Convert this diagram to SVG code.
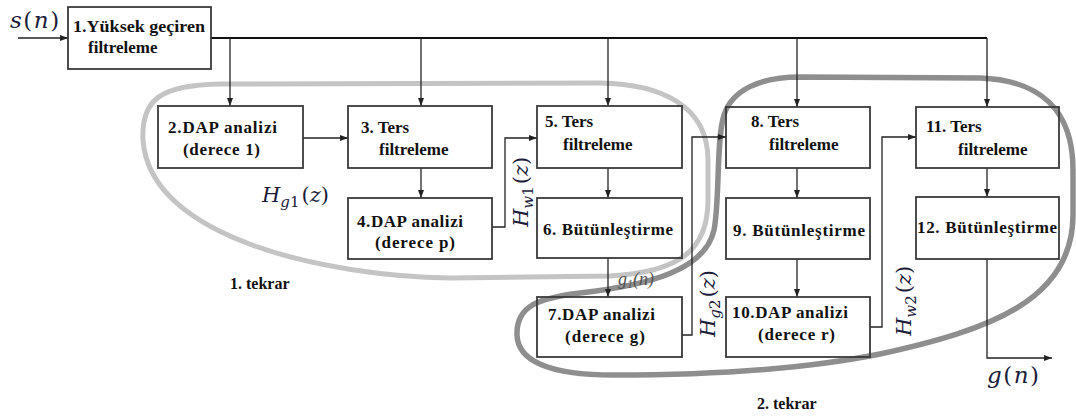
<svg xmlns="http://www.w3.org/2000/svg" width="1076" height="417" viewBox="0 0 1076 417">
<style>
.box{fill:none;stroke:#3a3a3a;stroke-width:1.8}
.lbl{font-family:"Liberation Serif","Times New Roman",serif;font-weight:bold;font-size:17px;fill:#111}
.math{font-family:"DejaVu Serif","Liberation Serif",serif;font-style:italic;fill:#1b1b3a}
.up{font-style:normal}
.con{fill:none;stroke:#222;stroke-width:1.3}
.bus{fill:none;stroke:#111;stroke-width:2}
.loop1{fill:none;stroke:#c4c4c4;stroke-width:5}
.loop2{fill:none;stroke:#8e8e8e;stroke-width:5.5}
</style>
<defs>
<marker id="arr" markerUnits="userSpaceOnUse" markerWidth="8" markerHeight="6" refX="8" refY="3" orient="auto">
<path d="M0,0 L8,3 L0,6 Z" fill="#222"/>
</marker>
</defs>

<g id="loops">
<path class="loop1" d="M220 84 L600 83 C660 84 708 105 708 160 L708 200 C708 250 680 272 610 276 L450 278 C330 276 150 240 143 140 C141 100 160 85 220 84 Z"/>
<path class="loop2" d="M800 77 L980 78 C1040 80 1073 110 1073 170 L1073 215 C1073 300 990 330 880 354 C810 368 720 375 613 375 C560 375 518 365 517 335 C516 305 540 298 580 293 C650 285 705 270 714 230 C720 200 716 140 724 115 C732 90 760 77 800 77 Z"/>
</g>

<g id="connectors">
<path class="con" d="M18,38 H68" marker-end="url(#arr)"/>
<path class="bus" d="M211,38 H987"/>
<path class="con" d="M230,38 V106" marker-end="url(#arr)"/>
<path class="con" d="M421,38 V106" marker-end="url(#arr)"/>
<path class="con" d="M608,38 V106" marker-end="url(#arr)"/>
<path class="con" d="M797,38 V107" marker-end="url(#arr)"/>
<path class="con" d="M987,38 V107" marker-end="url(#arr)"/>
<path class="con" d="M303,138 H348" marker-end="url(#arr)"/>
<path class="con" d="M421,168 V198" marker-end="url(#arr)"/>
<path class="con" d="M492,227 H505 V138 H537" marker-end="url(#arr)"/>
<path class="con" d="M608,168 V198" marker-end="url(#arr)"/>
<path class="con" d="M608,258 V297" marker-end="url(#arr)"/>
<path class="con" d="M682,335 H692 V137 H726" marker-end="url(#arr)"/>
<path class="con" d="M797,168 V198" marker-end="url(#arr)"/>
<path class="con" d="M797,259 V297" marker-end="url(#arr)"/>
<path class="con" d="M870,327 H882 V137 H916" marker-end="url(#arr)"/>
<path class="con" d="M987,168 V197" marker-end="url(#arr)"/>
<path class="con" d="M987,259 V358 H1052" marker-end="url(#arr)"/>
</g>

<g id="n1"><rect class="box" x="68" y="7" width="143" height="62"/>
<text class="lbl" x="73" y="32" textLength="132" lengthAdjust="spacingAndGlyphs">1.Yüksek geçiren</text>
<text class="lbl" x="88" y="53">filtreleme</text></g>

<g id="n2"><rect class="box" x="158" y="106" width="145" height="62"/>
<text class="lbl" x="168" y="133" textLength="109" lengthAdjust="spacing">2.DAP analizi</text>
<text class="lbl" x="183" y="155" textLength="77" lengthAdjust="spacing">(derece 1)</text></g>

<g id="n3"><rect class="box" x="348" y="106" width="144" height="62"/>
<text class="lbl" x="361" y="133">3. Ters</text>
<text class="lbl" x="379" y="155">filtreleme</text></g>

<g id="n4"><rect class="box" x="348" y="198" width="144" height="61"/>
<text class="lbl" x="357" y="227" textLength="106" lengthAdjust="spacing">4.DAP analizi</text>
<text class="lbl" x="375" y="248" textLength="80" lengthAdjust="spacing">(derece p)</text></g>

<g id="n5"><rect class="box" x="537" y="106" width="145" height="62"/>
<text class="lbl" x="545" y="127">5. Ters</text>
<text class="lbl" x="563" y="150">filtreleme</text></g>

<g id="n6"><rect class="box" x="537" y="198" width="145" height="60"/>
<text class="lbl" x="543" y="235" textLength="130" lengthAdjust="spacing">6. Bütünleştirme</text></g>

<g id="n7"><rect class="box" x="537" y="297" width="145" height="60"/>
<text class="lbl" x="548" y="320" textLength="107" lengthAdjust="spacing">7.DAP analizi</text>
<text class="lbl" x="565" y="342" textLength="80" lengthAdjust="spacing">(derece g)</text></g>

<g id="n8"><rect class="box" x="726" y="107" width="144" height="61"/>
<text class="lbl" x="751" y="127">8. Ters</text>
<text class="lbl" x="769" y="150">filtreleme</text></g>

<g id="n9"><rect class="box" x="726" y="198" width="144" height="61"/>
<text class="lbl" x="733" y="236" textLength="132" lengthAdjust="spacing">9. Bütünleştirme</text></g>

<g id="n10"><rect class="box" x="726" y="297" width="144" height="60"/>
<text class="lbl" x="732" y="318" textLength="116" lengthAdjust="spacing">10.DAP analizi</text>
<text class="lbl" x="758" y="340" textLength="77" lengthAdjust="spacing">(derece r)</text></g>

<g id="n11"><rect class="box" x="916" y="107" width="143" height="61"/>
<text class="lbl" x="926" y="132">11. Ters</text>
<text class="lbl" x="958" y="155">filtreleme</text></g>

<g id="n12"><rect class="box" x="916" y="197" width="143" height="62"/>
<text class="lbl" x="917" y="233" textLength="140" lengthAdjust="spacing">12. Bütünleştirme</text></g>

<g id="labels">
<text class="math" x="10" y="28" font-size="23" letter-spacing="1.5">s<tspan class="up">(</tspan>n<tspan class="up">)</tspan></text>
<text class="math" x="987" y="383" font-size="23" letter-spacing="1.5">g<tspan class="up">(</tspan>n<tspan class="up">)</tspan></text>
<text class="math" x="262" y="202" font-size="21">H<tspan font-size="15" dy="5">g</tspan><tspan class="up" font-size="15">1</tspan><tspan class="up" dy="-5" dx="2">(</tspan>z<tspan class="up">)</tspan></text>
<text class="math" transform="translate(528,227) rotate(-90)" font-size="21">H<tspan font-size="15" dy="5">w</tspan><tspan class="up" font-size="15">1</tspan><tspan class="up" dy="-5" dx="2">(</tspan>z<tspan class="up">)</tspan></text>
<text class="math" transform="translate(715,337) rotate(-90)" font-size="21">H<tspan font-size="15" dy="5">g</tspan><tspan class="up" font-size="15">2</tspan><tspan class="up" dy="-5" dx="2">(</tspan>z<tspan class="up">)</tspan></text>
<text class="math" transform="translate(911,336) rotate(-90)" font-size="21">H<tspan font-size="15" dy="5">w</tspan><tspan class="up" font-size="15">2</tspan><tspan class="up" dy="-5" dx="2">(</tspan>z<tspan class="up">)</tspan></text>
<text x="618" y="285" font-family="Liberation Serif, serif" font-style="italic" font-size="18" fill="#555">g<tspan font-size="12" dy="3">1</tspan><tspan dy="-3">(n)</tspan></text>
<text class="lbl" x="230" y="289" style="font-size:16px">1. tekrar</text>
<text class="lbl" x="757" y="409" style="font-size:16px">2. tekrar</text>
</g>
</svg>
